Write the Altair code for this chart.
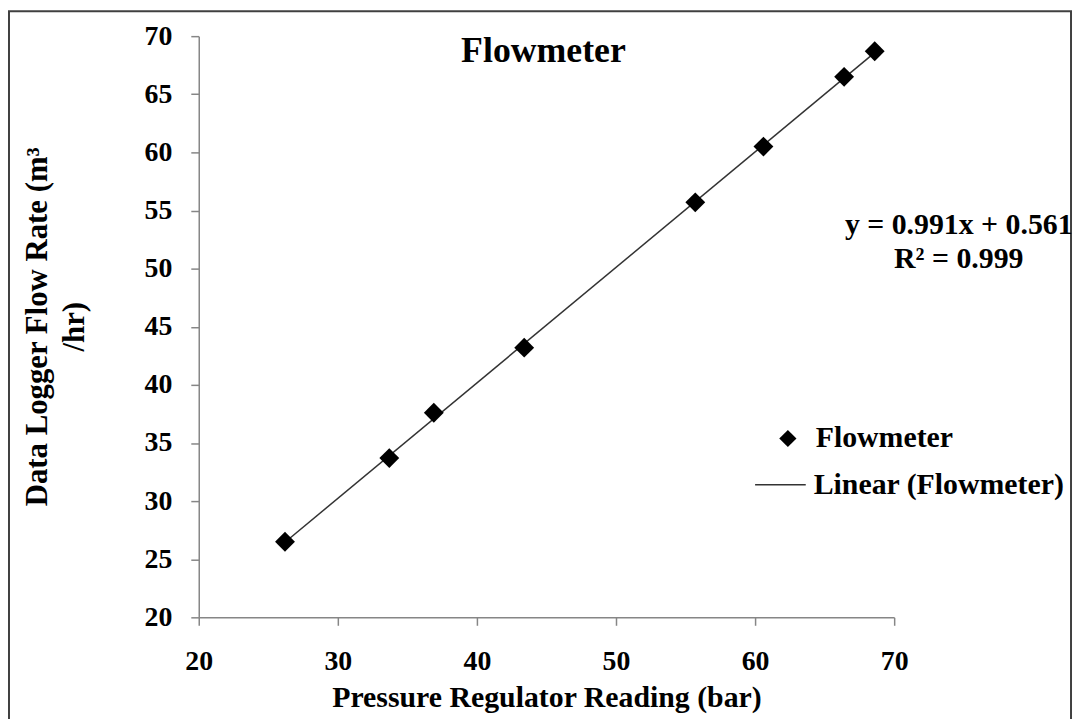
import altair as alt
import pandas as pd

# ---- data ----
pressure = [26.2, 33.7, 36.9, 43.4, 55.7, 60.6, 66.4, 68.6]
flow = [26.5, 33.7, 37.6, 43.2, 55.7, 60.5, 66.5, 68.7]
series_points = "Flowmeter"
series_fit = "Linear (Flowmeter)"
chart_title = "Flowmeter"
equation_lines = ["y = 0.991x + 0.561", "R\u00b2 = 0.999"]
x_ticks = [20, 30, 40, 50, 60, 70]
y_ticks = [20, 25, 30, 35, 40, 45, 50, 55, 60, 65, 70]
x_title = "Pressure Regulator Reading (bar)"
y_title = ["Data Logger Flow  Rate (m\u00b3", "/hr)"]

df = pd.DataFrame({"pressure": pressure, "flow": flow, "series": series_points})
FONT = "Liberation Serif"

x_scale = alt.Scale(domain=[20, 70], nice=False, zero=False)
y_scale = alt.Scale(domain=[20, 70], nice=False, zero=False)

x_enc = alt.X(
    "pressure:Q", scale=x_scale,
    axis=alt.Axis(values=x_ticks, title=x_title, titleY=90, titleBaseline="alphabetic",
                  labelPadding=23, labelFlush=False, labelOverlap=False),
)
y_enc = alt.Y(
    "flow:Q", scale=y_scale,
    axis=alt.Axis(values=y_ticks, title=y_title, titleX=-177, titleY=292, titleAngle=270,
                  titleBaseline="top", titleAlign="center", titleLineHeight=37,
                  titleFontSize=31, labelFlush=False, labelOverlap=False),
)

frame = alt.Chart(pd.DataFrame({"k": [0]})).mark_rect(
    filled=False, color="#404040", strokeWidth=2
).encode(x=alt.value(-191), x2=alt.value(878), y=alt.value(-25), y2=alt.value(730))

fit = alt.Chart(df).transform_regression("pressure", "flow").transform_calculate(
    series="'" + series_fit + "'"
).mark_line(strokeWidth=1.5).encode(
    x=alt.X("pressure:Q", scale=x_scale),
    y=alt.Y("flow:Q", scale=y_scale),
    color=alt.Color(
        "series:N",
        scale=alt.Scale(domain=[series_fit], range=["#333333"]),
        legend=alt.Legend(title=None, orient="none", legendX=559, legendY=425,
                          symbolType="stroke", symbolSize=2600, symbolStrokeWidth=1.5,
                          symbolStrokeColor="#222222", labelOffset=7, padding=0),
    ),
)

points = alt.Chart(df).mark_point(filled=True, size=400, opacity=1, color="black").encode(
    x=x_enc,
    y=y_enc,
    shape=alt.Shape(
        "series:N",
        scale=alt.Scale(domain=[series_points], range=["diamond"]),
        legend=alt.Legend(title=None, orient="none", legendX=578, legendY=390,
                          symbolSize=300, symbolFillColor="black", symbolStrokeColor="black",
                          labelOffset=13, padding=0),
    ),
)

title_text = alt.Chart(pd.DataFrame({"t": [chart_title]})).mark_text(
    font=FONT, fontSize=36, fontWeight="bold", color="black", align="center", baseline="alphabetic"
).encode(x=alt.value(347), y=alt.value(26), text="t:N")

eq_text = alt.Chart(pd.DataFrame({"k": [0]})).mark_text(
    font=FONT, fontSize=30, fontWeight="bold", color="black", align="center",
    baseline="alphabetic", lineHeight=34
).encode(x=alt.value(765), y=alt.value(199), text=alt.value(equation_lines))

chart = alt.layer(frame, fit, points, title_text, eq_text).properties(
    width=700, height=585,
    padding={"left": 192, "top": 26, "right": 180, "bottom": 100},
    autosize=alt.AutoSizeParams(type="none"),
).configure_view(stroke=None).configure_axis(
    labelFont=FONT, labelFontSize=28, labelFontWeight="bold", labelColor="black",
    titleFont=FONT, titleFontSize=30, titleFontWeight="bold", titleColor="black",
    domainColor="#868686", tickColor="#868686", domainWidth=1.5, tickWidth=1.5,
    tickSize=8, labelPadding=19, grid=False,
).configure_legend(
    labelFont=FONT, labelFontSize=30, labelFontWeight="bold", labelColor="black", labelLimit=0,
)

chart.save("out.html", embed_options={"renderer": "svg", "actions": False})
